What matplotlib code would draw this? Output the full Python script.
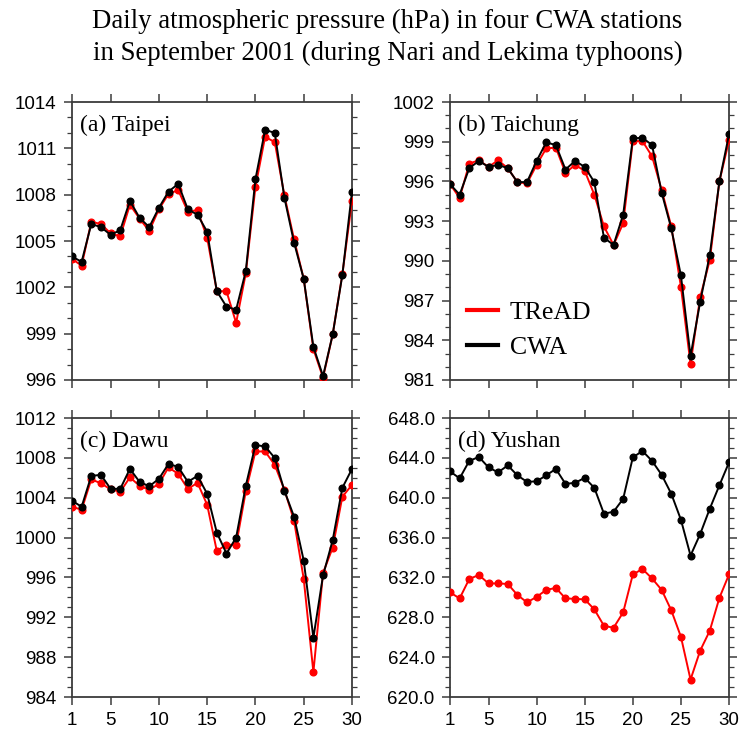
import matplotlib
matplotlib.use("Agg")
import matplotlib.pyplot as plt
from matplotlib.ticker import MultipleLocator, FormatStrFormatter

days = list(range(1, 31))

# daily mean pressure, hPa
taipei_cwa = [1004.0, 1003.65, 1006.1, 1005.9, 1005.4, 1005.7, 1007.6, 1006.5, 1005.9, 1007.15,
              1008.2, 1008.7, 1007.05, 1006.7, 1005.6, 1001.75, 1000.75, 1000.55, 1003.05, 1009.0,
              1012.2, 1012.0, 1007.8, 1004.9, 1002.55, 998.15, 996.25, 998.95, 1002.8, 1008.2]
taipei_tread = [1003.85, 1003.4, 1006.25, 1006.1, 1005.5, 1005.3, 1007.35, 1006.45, 1005.65, 1007.05,
                1008.05, 1008.3, 1006.9, 1007.0, 1005.2, 1001.75, 1001.75, 999.7, 1002.9, 1008.5,
                1011.75, 1011.4, 1007.95, 1005.1, 1002.55, 998.0, 996.15, 998.95, 1002.85, 1007.6]

taichung_cwa = [995.8, 995.0, 997.0, 997.55, 997.1, 997.25, 997.0, 995.95, 995.95, 997.55,
                998.95, 998.75, 996.9, 997.55, 997.1, 995.95, 991.75, 991.2, 993.5, 999.25,
                999.3, 998.75, 995.15, 992.45, 988.9, 982.8, 986.9, 990.45, 996.0, 999.55]
taichung_tread = [995.8, 994.75, 997.35, 997.6, 997.1, 997.6, 997.0, 995.95, 995.85, 997.25,
                  998.5, 998.55, 996.65, 997.25, 996.8, 995.0, 992.6, 991.2, 992.85, 999.05,
                  999.05, 997.9, 995.35, 992.6, 988.05, 982.2, 987.25, 990.05, 996.0, 999.1]

dawu_cwa = [1003.7, 1003.1, 1006.2, 1006.3, 1004.9, 1004.9, 1006.9, 1005.6, 1005.15, 1005.9,
            1007.4, 1007.1, 1005.6, 1006.2, 1004.4, 1000.5, 998.4, 1000.0, 1005.2, 1009.3,
            1009.15, 1008.0, 1004.7, 1002.1, 997.7, 989.95, 996.2, 999.75, 1005.0, 1006.9]
dawu_tread = [1003.1, 1002.8, 1005.85, 1005.45, 1004.85, 1004.6, 1006.05, 1005.2, 1004.8, 1005.4,
              1007.05, 1006.4, 1004.9, 1005.5, 1003.3, 998.65, 999.3, 999.25, 1004.65, 1008.65,
              1008.65, 1007.3, 1004.8, 1001.7, 995.85, 986.5, 996.45, 999.0, 1004.1, 1005.3]

yushan_cwa = [642.65, 641.95, 643.7, 644.1, 643.05, 642.55, 643.25, 642.25, 641.6, 641.65,
              642.25, 642.9, 641.4, 641.5, 642.0, 641.0, 638.4, 638.6, 639.9, 644.05,
              644.7, 643.7, 642.3, 640.4, 637.8, 634.2, 636.35, 638.9, 641.25, 643.55]
yushan_tread = [630.5, 629.9, 631.85, 632.25, 631.4, 631.4, 631.35, 630.25, 629.5, 630.05,
                630.75, 630.95, 629.9, 629.85, 629.8, 628.8, 627.15, 626.95, 628.5, 632.3,
                632.85, 631.9, 630.75, 628.7, 626.05, 621.75, 624.65, 626.65, 629.95, 632.3]

panel_titles = ["(a) Taipei", "(b) Taichung", "(c) Dawu", "(d) Yushan"]
y_ranges = [(996, 1014, 3), (981, 1002, 3), (984, 1012, 4), (620, 648, 4)]
x_ticks = [1, 5, 10, 15, 20, 25, 30]

serif = "Liberation Serif"
sans = "Liberation Sans"
frame_col = "#3c3c3c"

fig = plt.figure(figsize=(7.42, 7.34), dpi=100)

# axes boxes in figure fractions: left, bottom, width, height
boxes = [
    [0.0970, 0.4823, 0.3774, 0.3787],
    [0.6065, 0.4823, 0.3760, 0.3787],
    [0.0970, 0.0504, 0.3774, 0.3800],
    [0.6065, 0.0504, 0.3760, 0.3800],
]
series = [
    (taipei_tread, taipei_cwa),
    (taichung_tread, taichung_cwa),
    (dawu_tread, dawu_cwa),
    (yushan_tread, yushan_cwa),
]

for i, ax_box in enumerate(boxes):
    ax = fig.add_axes(ax_box)
    tread, cwa = series[i]
    ax.plot(days, tread, color="red", lw=1.4, marker="o", ms=4.8, zorder=3, label="TReAD")
    ax.plot(days, cwa, color="black", lw=1.4, marker="o", ms=4.8, zorder=4, label="CWA")

    lo, hi, step = y_ranges[i]
    ax.set_xlim(1, 30)
    ax.set_ylim(lo, hi)
    ax.set_xticks(x_ticks)
    ax.yaxis.set_major_locator(MultipleLocator(step))
    ax.yaxis.set_minor_locator(MultipleLocator(1))
    if i == 3:
        ax.yaxis.set_major_formatter(FormatStrFormatter("%.1f"))

    for sp in ax.spines.values():
        sp.set_color(frame_col)
        sp.set_linewidth(1.3)
    ax.tick_params(which="major", direction="out", length=6, width=1.1, color=frame_col,
                   top=True, right=True, labelsize=13.5, pad=5)
    ax.tick_params(which="minor", direction="out", length=3.5, width=0.9, color=frame_col,
                   right=True, left=True)
    if i < 2:
        ax.tick_params(axis="x", labelbottom=False)
    for lab in ax.get_xticklabels() + ax.get_yticklabels():
        lab.set_fontfamily(sans)

    ax.text(0.03, 0.955, panel_titles[i], transform=ax.transAxes, ha="left", va="top",
            fontsize=17, family=serif)

    if i == 1:
        ax.legend(loc="center left", bbox_to_anchor=(0.062, 0.18), frameon=False,
                  borderaxespad=0, borderpad=0,
                  prop={"family": serif, "size": 18.5}, handlelength=1.2,
                  handletextpad=0.45, labelspacing=0.5)
        for h in ax.get_legend().legend_handles:
            h.set_marker("")
            h.set_linewidth(3)

fig.text(0.522, 0.988, "Daily atmospheric pressure (hPa) in four CWA stations\n"
         "in September 2001 (during Nari and Lekima typhoons)",
         ha="center", va="top", fontsize=19.3, family=serif, linespacing=1.38)

fig.savefig("out.png", dpi=100)
